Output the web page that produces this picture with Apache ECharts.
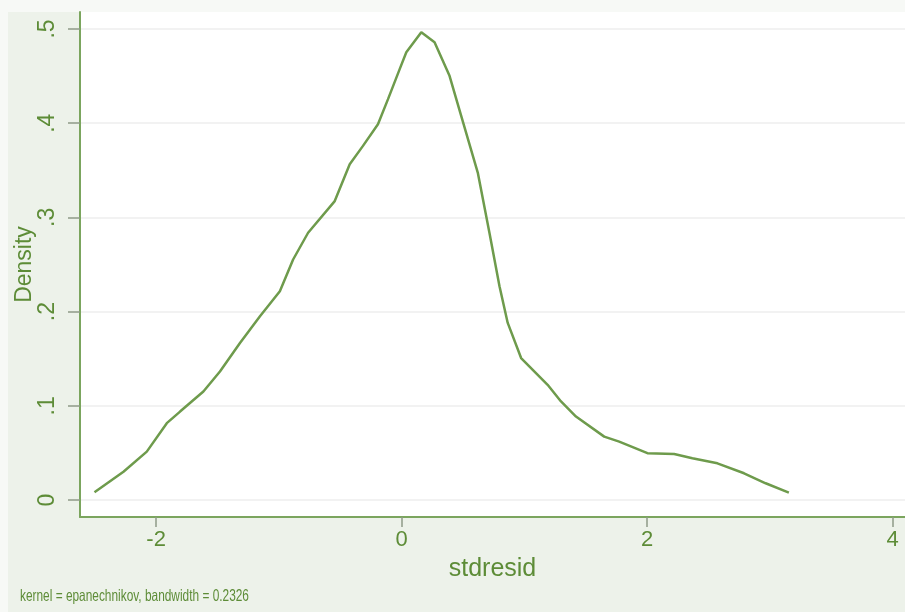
<!DOCTYPE html>
<html>
<head>
<meta charset="utf-8">
<script src="https://cdn.jsdelivr.net/npm/echarts@6/dist/echarts.min.js"></script>
<style>
html,body{margin:0;padding:0;background:#f7f9f6;}
#chart{width:905px;height:612px;}
</style>
</head>
<body>
<div id="chart"></div>
<script>
// Kernel density estimate of stdresid
const xValues = [-2.502,-2.266,-2.076,-1.913,-1.805,-1.615,-1.480,-1.317,-1.154,-0.992,-0.884,-0.762,-0.545,-0.423,-0.315,-0.193,-0.111,-0.016,0.038,0.160,0.268,0.390,0.485,0.620,0.715,0.797,0.864,0.973,1.189,1.298,1.420,1.650,1.772,2.002,2.220,2.368,2.572,2.789,2.965,3.154];
const densityValues = [0.0082,0.0301,0.0514,0.0816,0.0939,0.1152,0.1365,0.1667,0.1950,0.2216,0.2553,0.2837,0.3173,0.3564,0.3759,0.3989,0.4255,0.4574,0.4752,0.4965,0.4858,0.4503,0.4078,0.3476,0.2837,0.2269,0.1880,0.1507,0.1223,0.1046,0.0886,0.0673,0.0620,0.0497,0.0489,0.0444,0.0390,0.0284,0.0178,0.0078];
const xTicks = [-2, 0, 2, 4];
const yTicks = [0, 0.1, 0.2, 0.3, 0.4, 0.5];
const xTitle = 'stdresid';
const yTitle = 'Density';
const noteText = 'kernel = epanechnikov, bandwidth = 0.2326';

const textColor = '#5d8c37';
const axisColor = '#7ba55e';
const lineColor = '#6e9b4c';

const chart = echarts.init(document.getElementById('chart'));
chart.setOption({
  animation: false,
  backgroundColor: '#f7f9f6',
  graphic: [
    { type: 'rect', left: 8, top: 12, shape: { width: 897, height: 600 }, style: { fill: '#edf2ea' }, z: -10 },
    { type: 'text', x: 20, y: 588, scaleX: 0.72, style: { text: noteText, fill: textColor, font: '16.5px "Liberation Sans", Arial, sans-serif' } }
  ],
  grid: { left: 80, right: 0, top: 12, bottom: 95, containLabel: false, outerBoundsMode: 'none', show: true, backgroundColor: '#ffffff', borderWidth: 0 },
  xAxis: {
    type: 'value', min: -2.62, max: 4.1,
    name: xTitle, nameLocation: 'middle', nameGap: 40, nameMoveOverlap: false,
    nameTextStyle: { color: textColor, fontSize: 25, fontFamily: 'Liberation Sans, Arial, sans-serif' },
    axisLine: { show: true, onZero: false, lineStyle: { color: axisColor, width: 2 } },
    axisTick: { show: true, length: 10, customValues: xTicks, lineStyle: { color: '#8f9a88', width: 1.5 } },
    axisLabel: { customValues: xTicks, color: textColor, fontSize: 22, margin: 12, fontFamily: 'Liberation Sans, Arial, sans-serif', formatter: v => String(v) },
    splitLine: { show: false }
  },
  yAxis: {
    type: 'value', min: -0.018, max: 0.518,
    name: yTitle, nameLocation: 'middle', nameGap: 44, nameRotate: 90, nameMoveOverlap: false,
    nameTextStyle: { color: textColor, fontSize: 23, fontFamily: 'Liberation Sans, Arial, sans-serif' },
    axisLine: { show: true, onZero: false, lineStyle: { color: axisColor, width: 2 } },
    axisTick: { show: true, length: 12, customValues: yTicks, lineStyle: { color: '#8f9a88', width: 1.5 } },
    axisLabel: { customValues: yTicks, rotate: 90, color: textColor, fontSize: 23, margin: 21, fontFamily: 'Liberation Sans, Arial, sans-serif',
      formatter: v => v === 0 ? '0' : String(Math.round(v * 10) / 10).replace(/^0\./, '.') },
    splitLine: { show: true, lineStyle: { color: '#eeeeee', width: 1.5 } }
  },
  series: [{
    type: 'line',
    data: xValues.map((x, i) => [x, densityValues[i]]),
    showSymbol: false,
    smooth: false,
    lineStyle: { color: lineColor, width: 2.5 }
  }]
});
</script>
</body>
</html>
